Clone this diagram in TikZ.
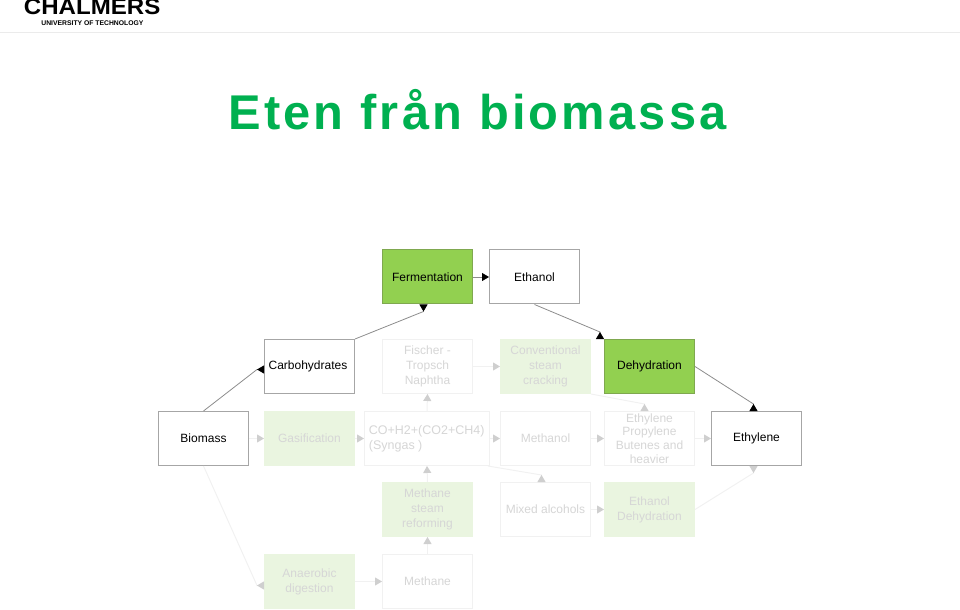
\documentclass[tikz,border=0pt]{standalone}
\usepackage{fontspec}
\setmainfont{Liberation Sans}
\usetikzlibrary{arrows.meta}
\definecolor{titlegreen}{HTML}{00B050}
\definecolor{strongfill}{HTML}{92D050}
\definecolor{strongline}{HTML}{7FA84F}
\definecolor{paleline}{HTML}{F1F1F1}
\definecolor{palefill}{HTML}{EAF5E0}
\definecolor{paletext}{HTML}{D6D6D6}
\definecolor{palearrow}{HTML}{CFCFCF}
\tikzset{
  basebox/.style={minimum width=45pt,minimum height=27pt,inner sep=0pt,align=center,font=\fontsize{6pt}{7.5pt}\selectfont},
  plainbox/.style={basebox,draw=black!35,line width=0.5pt,fill=white,text=black},
  strongbox/.style={basebox,draw=strongline,line width=0.5pt,fill=strongfill,text=black},
  palebox/.style={basebox,draw=paleline,line width=0.5pt,fill=white,text=paletext},
  palegreen/.style={basebox,draw=palefill,line width=0.5pt,fill=palefill,text=paletext},
  darkarrow/.style={draw=black!45,line width=0.4pt,-{Triangle[length=3.5pt,width=4pt,color=black]}},
  darksite/.style={draw=black!45,line width=0.4pt,-{Triangle[reversed,length=3.5pt,width=4pt,color=black]}},
  palearrowline/.style={draw=paleline,line width=0.5pt,-{Triangle[length=3.5pt,width=4pt,color=palearrow]}},
  palesite/.style={draw=paleline,line width=0.5pt,-{Triangle[reversed,length=3.5pt,width=4pt,color=palearrow]}}
}
\begin{document}
\begin{tikzpicture}[x=0.5pt,y=-0.5pt]
\useasboundingbox (0,0) rectangle (960,610);
\clip (0,0) rectangle (960,610);

\node[anchor=base west,inner sep=0pt,font=\fontsize{11.2pt}{11.2pt}\selectfont\bfseries] (logoname) at (23.5,15) {\addfontfeature{FakeStretch=1.075}CHALMERS};
\node[anchor=base west,inner sep=0pt,font=\fontsize{3.4pt}{3.4pt}\selectfont\bfseries] (logosub) at (41,26) {UNIVERSITY OF TECHNOLOGY};
\draw[black!8,line width=0.5pt] (0,32.5) -- (960,32.5);

\node[anchor=base,inner sep=0pt,text=titlegreen,font=\fontsize{24.4pt}{25pt}\selectfont\bfseries] (title) at (477.5,129.5) {\addfontfeature{LetterSpace=6.6}Eten från biomassa};

\node[strongbox] (ferment) at (427.5,277) {Fermentation};
\node[plainbox] (ethanol) at (534.5,277) {Ethanol};

\node[plainbox] (carbo) at (309.5,366.5) {Carbohydrates\hspace{1.5pt}};
\node[palebox] (fischer) at (427.5,366.5) {Fischer -\\Tropsch\\Naphtha};
\node[palegreen] (cracking) at (545.5,366.5) {Conventional\\steam\\cracking};
\node[strongbox] (dehyd) at (649.5,366.5) {Dehydration};

\node[plainbox] (biomass) at (203.5,438.5) {Biomass};
\node[palegreen] (gasif) at (309.5,438.5) {Gasification};
\node[palebox,minimum width=62.5pt] (syngas) at (427,438.5) {};
\node[anchor=west,inner sep=0pt,text=paletext,align=left,font=\fontsize{6.25pt}{7.5pt}\selectfont] (syngastext) at (368.5,438.5) {CO+H2+(CO2+CH4)\\(Syngas )};
\node[palebox] (methanol) at (545.5,438.5) {Methanol};
\node[palebox,font=\fontsize{6pt}{6.85pt}\selectfont] (mixture) at (649.5,438.5) {Ethylene\\Propylene\\Butenes and\\heavier};
\node[plainbox] (ethylene) at (756.5,438.5) {Ethylene};

\node[palegreen] (reform) at (427.5,509.5) {Methane\\steam\\reforming};
\node[palebox] (alcohols) at (545.5,509.5) {Mixed alcohols};
\node[palegreen] (ethdehyd) at (649.5,509.5) {Ethanol\\Dehydration};

\node[palegreen] (anaerobic) at (309.5,581.5) {Anaerobic\\digestion};
\node[palebox] (methane) at (427.5,581.5) {Methane};

\draw[palearrowline] (biomass.east) -- (gasif.west);
\draw[palearrowline] (gasif.east) -- (syngas.west);
\draw[palearrowline] (syngas.east) -- (methanol.west);
\draw[palearrowline] (methanol.east) -- (mixture.west);
\draw[palearrowline] (mixture.east) -- (ethylene.west);
\draw[palearrowline] (fischer.east) -- (cracking.west);
\draw[palearrowline] (alcohols.east) -- (ethdehyd.west);
\draw[palearrowline] (anaerobic.east) -- (methane.west);
\draw[palearrowline] (syngas.north) -- (fischer.south);
\draw[palearrowline] (reform.north) -- (syngas.south);
\draw[palearrowline] (methane.north) -- (reform.south);
\draw[palesite] (cracking.south east) -- ([shift={(-2.5pt,3.5pt)}]mixture.north) -- ([xshift=-2.5pt]mixture.north);
\draw[palesite] ([xshift=-1pt]syngas.south east) -- ([shift={(-2pt,3.5pt)}]alcohols.north) -- ([xshift=-2pt]alcohols.north);
\draw[palesite] (biomass.south) -- ([shift={(-3.5pt,-2pt)}]anaerobic.west) -- ([yshift=-2pt]anaerobic.west);
\draw[palesite] (ethdehyd.east) -- ([shift={(-1.5pt,-3.5pt)}]ethylene.south) -- ([xshift=-1.5pt]ethylene.south);

\draw[darksite] (biomass.north) -- ([shift={(-3.5pt,-1.5pt)}]carbo.west) -- ([yshift=-1.5pt]carbo.west);
\draw[darksite] (carbo.north east) -- ([shift={(-2pt,-3.5pt)}]ferment.south) -- ([xshift=-2pt]ferment.south);
\draw[darkarrow] (ferment.east) -- (ethanol.west);
\draw[darksite] (ethanol.south) -- ([shift={(-2pt,3.5pt)}]dehyd.north west) -- ([xshift=-2pt]dehyd.north west);
\draw[darksite] (dehyd.east) -- ([shift={(-1.5pt,3.5pt)}]ethylene.north) -- ([xshift=-1.5pt]ethylene.north);
\end{tikzpicture}
\end{document}
